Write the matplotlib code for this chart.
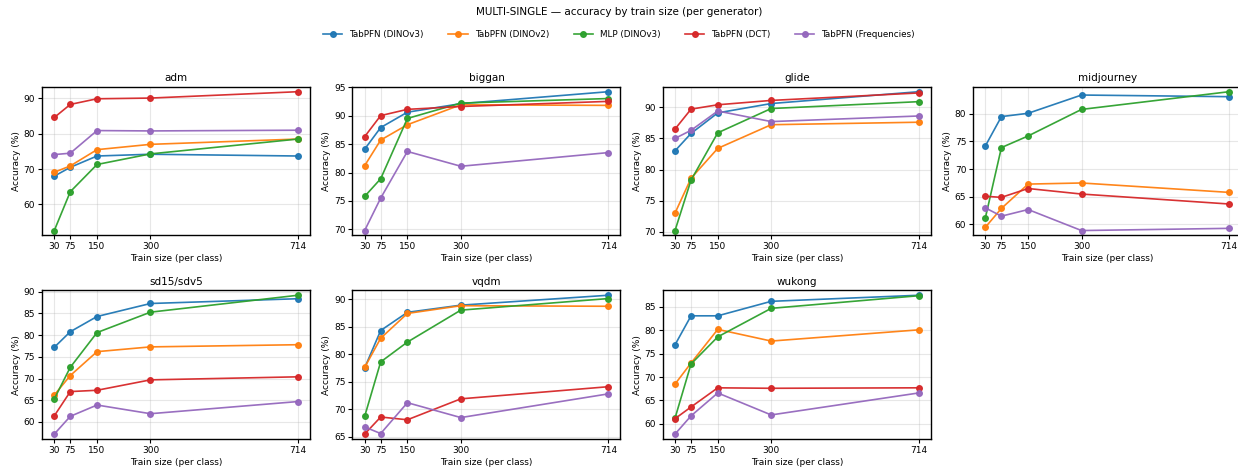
import matplotlib
matplotlib.use("Agg")
import matplotlib.pyplot as plt

train_sizes = [30, 75, 150, 300, 714]
generators = ["adm", "biggan", "glide", "midjourney", "sd15/sdv5", "vqdm", "wukong"]
methods = ["TabPFN (DINOv3)", "TabPFN (DINOv2)", "MLP (DINOv3)", "TabPFN (DCT)", "TabPFN (Frequencies)"]
colors = ["#1f77b4", "#ff7f0e", "#2ca02c", "#d62728", "#9467bd"]

# accuracy[generator] = [dinov3, dinov2, mlp, dct, freq]
adm = [
    [68.0, 70.5, 73.7, 74.2, 73.7],
    [69.1, 70.9, 75.5, 77.0, 78.5],
    [52.6, 63.6, 71.3, 74.3, 78.5],
    [84.6, 88.3, 89.9, 90.1, 91.9],
    [74.1, 74.5, 80.9, 80.8, 81.0],
]
biggan = [
    [84.1, 87.9, 90.6, 92.1, 94.2],
    [81.2, 85.7, 88.4, 91.9, 91.8],
    [75.8, 78.9, 89.5, 92.2, 93.0],
    [86.3, 90.0, 91.1, 91.6, 92.5],
    [69.8, 75.5, 83.7, 81.1, 83.5],
]
glide = [
    [83.0, 85.8, 89.1, 90.6, 92.5],
    [73.0, 78.6, 83.4, 87.2, 87.6],
    [70.2, 78.3, 85.9, 89.8, 90.9],
    [86.5, 89.7, 90.4, 91.1, 92.3],
    [85.0, 86.3, 89.4, 87.7, 88.6],
]
midjourney = [
    [74.2, 79.5, 80.1, 83.4, 83.1],
    [59.5, 62.9, 67.3, 67.5, 65.8],
    [61.2, 73.9, 76.0, 80.8, 84.0],
    [65.1, 64.9, 66.5, 65.5, 63.7],
    [63.0, 61.5, 62.7, 58.9, 59.3],
]
sd15_sdv5 = [
    [77.2, 80.8, 84.3, 87.3, 88.4],
    [66.2, 70.7, 76.2, 77.3, 77.8],
    [65.3, 72.6, 80.6, 85.3, 89.2],
    [61.4, 67.0, 67.3, 69.7, 70.4],
    [57.2, 61.3, 63.9, 61.9, 64.7],
]
vqdm = [
    [77.5, 84.3, 87.6, 88.9, 90.7],
    [77.6, 82.9, 87.4, 88.8, 88.7],
    [68.7, 78.6, 82.2, 88.0, 90.1],
    [65.5, 68.6, 68.1, 71.9, 74.1],
    [66.8, 65.6, 71.2, 68.5, 72.8],
]
wukong = [
    [76.9, 83.1, 83.1, 86.2, 87.5],
    [68.5, 73.0, 80.2, 77.7, 80.1],
    [61.2, 72.8, 78.6, 84.7, 87.4],
    [61.1, 63.6, 67.7, 67.6, 67.7],
    [57.8, 61.7, 66.6, 61.9, 66.6],
]
all_data = [adm, biggan, glide, midjourney, sd15_sdv5, vqdm, wukong]

plt.rcParams["font.family"] = ["DejaVu Sans"]
fig = plt.figure(figsize=(12.38, 4.72), dpi=100)
gs = fig.add_gridspec(2, 4, left=0.034, right=1.0026, top=0.816, bottom=0.070,
                      wspace=0.158, hspace=0.37)

handles = None
for i, (gen, data) in enumerate(zip(generators, all_data)):
    ax = fig.add_subplot(gs[i // 4, i % 4])
    hs = []
    for m, (vals, c) in enumerate(zip(data, colors)):
        h, = ax.plot(train_sizes, vals, marker="o", color=c, lw=1.2, ms=4,
                     label=methods[m], alpha=0.95)
        hs.append(h)
    handles = hs
    ax.set_title(gen, fontsize=7.5, pad=4)
    ax.set_xticks(train_sizes)
    ax.set_xticklabels([str(s) for s in train_sizes])
    ax.tick_params(labelsize=6.5, length=3, pad=2)
    ax.set_xlabel("Train size (per class)", fontsize=6.5, labelpad=2)
    ax.set_ylabel("Accuracy (%)", fontsize=6.5, labelpad=2)
    ax.grid(True, alpha=0.3, lw=0.8)
    ax.margins(x=0.05, y=0.035)
    for sp in ax.spines.values():
        sp.set_linewidth(1.0)

fig.suptitle("MULTI-SINGLE — accuracy by train size (per generator)", fontsize=7.5, y=0.985)
fig.legend(handles, methods, loc="center", bbox_to_anchor=(0.5, 0.926), ncol=5,
           frameon=False, fontsize=6.3, handlelength=2.2, columnspacing=2.8)

fig.savefig("out.png", dpi=100)
